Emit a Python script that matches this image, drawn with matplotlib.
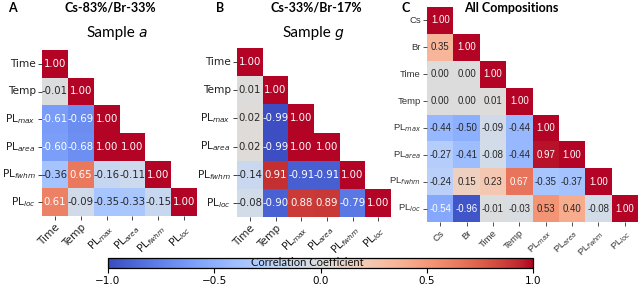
import numpy as np
import matplotlib
matplotlib.use('Agg')
import matplotlib.pyplot as plt
import seaborn as sns
from matplotlib.cm import ScalarMappable
from matplotlib.colors import Normalize

plt.rcParams['font.family'] = ['DejaVu Sans']

labels_ab = ['Time', 'Temp', r'PL$_{max}$', r'PL$_{area}$', r'PL$_{fwhm}$', r'PL$_{loc}$']
labels_c = ['Cs', 'Br', 'Time', 'Temp', r'PL$_{max}$', r'PL$_{area}$', r'PL$_{fwhm}$', r'PL$_{loc}$']

rows_a = [[1.00],
          [-0.01, 1.00],
          [-0.61, -0.69, 1.00],
          [-0.60, -0.68, 1.00, 1.00],
          [-0.36, 0.65, -0.16, -0.11, 1.00],
          [0.61, -0.09, -0.35, -0.33, -0.15, 1.00]]
rows_b = [[1.00],
          [0.01, 1.00],
          [0.02, -0.99, 1.00],
          [0.02, -0.99, 1.00, 1.00],
          [-0.14, 0.91, -0.91, -0.91, 1.00],
          [-0.08, -0.90, 0.88, 0.89, -0.79, 1.00]]
rows_c = [[1.00],
          [0.35, 1.00],
          [0.00, 0.00, 1.00],
          [0.00, 0.00, 0.01, 1.00],
          [-0.44, -0.50, -0.09, -0.44, 1.00],
          [-0.27, -0.41, -0.08, -0.44, 0.97, 1.00],
          [-0.24, 0.15, 0.23, 0.67, -0.35, -0.37, 1.00],
          [-0.54, -0.96, -0.01, -0.03, 0.53, 0.40, -0.08, 1.00]]

cbar_ticks = [-1.0, -0.5, 0.0, 0.5, 1.0]


def lower(rows):
    n = len(rows)
    m = np.full((n, n), np.nan)
    for i, r in enumerate(rows):
        m[i, :len(r)] = r
    return m


W, H = 640, 287
fig = plt.figure(figsize=(W / 100, H / 100), dpi=100)


def px(l, t, r, b):
    return [l / W, 1 - b / H, (r - l) / W, (b - t) / H]


def draw(ax, rows, labels, annot_size, tick_size, family, tick_color):
    m = lower(rows)
    sns.heatmap(m, mask=np.isnan(m), cmap='coolwarm', vmin=-1, vmax=1,
                annot=True, fmt='.2f', cbar=False, ax=ax,
                annot_kws={'size': annot_size, 'family': family},
                xticklabels=labels, yticklabels=labels)
    ax.set_xticklabels(labels, rotation=45, ha='right', rotation_mode='anchor',
                       fontsize=tick_size, family=family, color=tick_color)
    ax.set_yticklabels(labels, rotation=0, fontsize=tick_size, family=family,
                       color=tick_color)
    ax.tick_params(length=3, width=0.6, colors=tick_color, pad=1.5)


axA = fig.add_axes(px(42, 50, 197, 216))
draw(axA, rows_a, labels_ab, 7.3, 7.6, 'DejaVu Sans', '#222222')
axB = fig.add_axes(px(237, 48, 391, 217))
draw(axB, rows_b, labels_ab, 7.3, 7.6, 'DejaVu Sans', '#222222')
axC = fig.add_axes(px(427, 7, 638, 222))
draw(axC, rows_c, labels_c, 6.9, 6.8, 'Liberation Sans', '#333333')

# headers
hdr = dict(weight='bold', family='Lato', fontsize=9, va='center')
fig.text(8 / W, 1 - 8 / H, 'A', ha='left', **hdr)
fig.text(110 / W, 1 - 8 / H, 'Cs-83%/Br-33%', ha='center', **hdr)
fig.text(216 / W, 1 - 8 / H, 'B', ha='left', **hdr)
fig.text(316 / W, 1 - 8 / H, 'Cs-33%/Br-17%', ha='center', **hdr)
fig.text(401 / W, 1 - 8 / H, 'C', ha='left', **hdr)
fig.text(511 / W, 1 - 8 / H, 'All Compositions', ha='center', **hdr)

# sample titles
for x0, letter in [(86, 'a'), (282, 'g')]:
    t = fig.text(x0 / W, 1 - 40 / H, 'Sample', family='Lato', fontsize=11,
                 ha='left', va='bottom')
    axA.annotate(letter, xy=(1, 0), xycoords=t, xytext=(3, 0),
                 textcoords='offset points', family='DejaVu Sans', style='italic',
                 fontsize=10, ha='left', va='bottom', annotation_clip=False)

# colorbar
cax = fig.add_axes(px(108, 258, 533, 268))
sm = ScalarMappable(norm=Normalize(-1, 1), cmap='coolwarm')
cb = fig.colorbar(sm, cax=cax, orientation='horizontal', ticks=cbar_ticks)
cb.ax.tick_params(labelsize=7.5, length=3.5, width=0.8, pad=2)
cb.outline.set_linewidth(0.9)
cax.text((307 - 108) / (533 - 108), 0.5, 'Correlation Coefficient',
         transform=cax.transAxes, ha='center', va='center', family='Lato',
         fontsize=8, color='#111111')

fig.savefig('out.png', dpi=100)
